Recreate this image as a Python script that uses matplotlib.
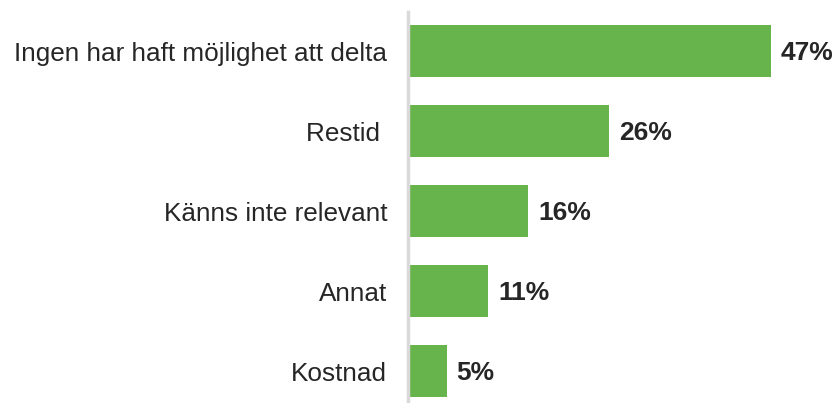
import matplotlib.pyplot as plt

categories = ['Ingen har haft möjlighet att delta', 'Restid ', 'Känns inte relevant', 'Annat', 'Kostnad']
values = [47, 25.9, 15.4, 10.2, 4.8]
value_labels = ['47%', '26%', '16%', '11%', '5%']

plt.rcParams['font.family'] = ['Liberation Sans', 'DejaVu Sans']

fig = plt.figure(figsize=(8.34, 4.03), dpi=100)
ax = fig.add_axes([408 / 834, 0, 426 / 834, 391 / 403])

pos = list(range(len(categories)))
ax.barh(pos, values, height=0.65, color='#66b44b')
for p, v, lab in zip(pos, values, value_labels):
    ax.annotate(lab, (v, p), xytext=(7, -1.5), textcoords='offset points',
                va='center', ha='left', fontsize=19, fontweight='bold', color='#262626')

ax.set_yticks(pos)
ax.set_yticklabels(categories, fontsize=18.8, color='#262626')
ax.tick_params(axis='y', length=0, pad=15)
ax.set_xticks([])
ax.set_ylim(4.4, -0.49)
ax.set_xlim(-0.26, 55.2)
for s in ['top', 'right', 'bottom']:
    ax.spines[s].set_visible(False)
ax.spines['left'].set_color('#d9d9d9')
ax.spines['left'].set_linewidth(2.5)

fig.savefig('out.png', dpi=100)
